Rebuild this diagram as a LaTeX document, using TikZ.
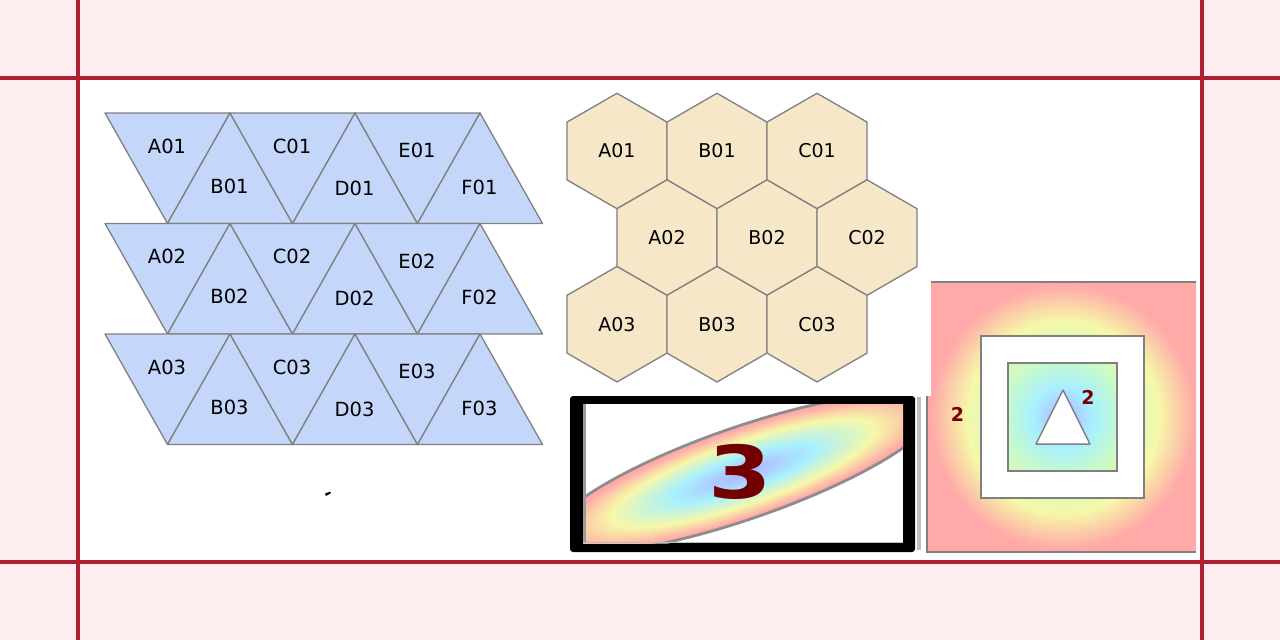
\documentclass[tikz,border=0pt]{standalone}
\usepackage{fontspec}
\setmainfont{DejaVu Sans}
\usepackage{graphicx}
\usetikzlibrary{shapes.geometric}
\definecolor{bgpink}{RGB}{255,238,239}
\definecolor{redline}{RGB}{176,32,48}
\definecolor{trifill}{RGB}{196,214,250}
\definecolor{hexfill}{RGB}{246,231,201}
\definecolor{edgegray}{RGB}{128,128,128}
\definecolor{numred}{RGB}{115,0,0}
\definecolor{lav}{RGB}{176,178,255}
\definecolor{cyanc}{RGB}{168,240,255}
\definecolor{mint}{RGB}{200,250,200}
\definecolor{yel}{RGB}{246,248,168}
\definecolor{pnk}{RGB}{255,170,168}
\pgfdeclareradialshading{ellshade}{\pgfpoint{0bp}{0bp}}{color(0bp)=(lav); color(9bp)=(cyanc); color(17bp)=(yel); color(23.5bp)=(pnk); color(25bp)=(pnk); color(50bp)=(pnk)}
\pgfdeclareradialshading{sqshade}{\pgfpoint{0bp}{0bp}}{color(0bp)=(lav); color(3.8bp)=(cyanc); color(7.5bp)=(mint); color(12bp)=(yel); color(16.5bp)=(pnk); color(25bp)=(pnk); color(50bp)=(pnk)}
\tikzset{
  lbl/.style={font=\fontsize{19.5}{23}\selectfont, inner sep=0pt},
  tri/.style={fill=trifill, draw=edgegray, line width=1.3pt, line join=round},
  hexa/.style={regular polygon, regular polygon sides=6, shape border rotate=30,
    minimum size=115.5pt, inner sep=0pt, outer sep=0pt, fill=hexfill,
    draw=edgegray, line width=1.3pt, font=\fontsize{19}{23}\selectfont},
  edge/.style={draw=edgegray, line width=1.5pt},
  num/.style={text=numred, font=\bfseries\fontsize{19}{23}\selectfont, inner sep=0pt},
  rl/.style={draw=redline, line width=3.5pt}
}
\begin{document}
\begin{tikzpicture}[x=1pt,y=-1pt]
\useasboundingbox (0,0) rectangle (1280,640);
\fill[bgpink] (0,0) rectangle (1280,640);
\fill[white] (78,78) rectangle (1202,562);
\draw[rl] (78,0) -- (78,640);
\draw[rl] (1202,0) -- (1202,640);
\draw[rl] (0,78) -- (1280,78);
\draw[rl] (0,562) -- (1280,562);

% triangles
\foreach \r/\rr in {0/1,1/2,2/3} {
  \pgfmathsetmacro\yt{113+110.5*\r}
  \pgfmathsetmacro\yb{\yt+110.5}
  \foreach \j in {0,1,2} {
    \pgfmathsetmacro\xa{105+125*\j}
    \draw[tri] (\xa,\yt) -- ++(125,0) -- ++(-62.5,110.5) -- cycle;
    \draw[tri] (\xa+62.5,\yb) -- ++(62.5,-110.5) -- ++(62.5,110.5) -- cycle;
  }
  \foreach \L/\dy [count=\k from 0] in {A/33,B/73,C/33,D/75,E/37.5,F/74} {
    \pgfmathsetmacro\lx{167+62.5*\k}
    \pgfmathsetmacro\ly{\yt+\dy}
    \node[lbl] (t\L\rr) at (\lx,\ly) {\L0\rr};
  }
}
\fill[black] (325,493.5) -- (330,491.8) -- (331,493) -- (326,496) -- cycle;

% hexagons
\node[hexa] (hA01) at (617,151) {A01};
\node[hexa] (hB01) at (717,151) {B01};
\node[hexa] (hC01) at (817,151) {C01};
\node[hexa] (hA02) at (667,237.6) {A02};
\node[hexa] (hB02) at (767,237.6) {B02};
\node[hexa] (hC02) at (867,237.6) {C02};
\node[hexa] (hA03) at (617,324.2) {A03};
\node[hexa] (hB03) at (717,324.2) {B03};
\node[hexa] (hC03) at (817,324.2) {C03};

% ellipse picture
\fill[black, rounded corners=3pt] (570,396) rectangle (915,552);
\fill[black!25] (917,397) rectangle (920.5,550);
\begin{scope}
  \clip (583,404) rectangle (903,543);
  \fill[white] (583,404) rectangle (903,543);
  \begin{scope}[transform canvas={cm={193,63,0,48.5,(743pt,-473pt)}}]
    \shade[shading=ellshade] (0pt,0pt) circle (1pt);
  \end{scope}
  \draw[draw=edgegray!90, line width=2.8pt, cm={193,63,0,48.5,(743,473)}] (0,0) circle (1pt);
  \fill[edgegray!80] (583,404) rectangle (585.5,543);
  \draw[black!25, line width=1pt] (583,542.5) -- (903,542.5);
\end{scope}
\node[text=numred, font=\bfseries\fontsize{73}{80}\selectfont, inner sep=0pt] (n3) at (740,471.5) {\scalebox{1.25}[1]{3}};

% square picture
\begin{scope}
  \clip (931,282) -- (1196,282) -- (1196,552) -- (927,552) -- (927,396) -- (931,396) -- cycle;
  \shade[shading=sqshade] (1063,417) circle (200);
\end{scope}
\draw[edge] (931,282) -- (1196,282);
\draw[edge] (927,396) -- (927,552) -- (1196,552);
\draw[edge, fill=white] (981,336) rectangle (1144,498);
\begin{scope}
  \clip (1008,363) rectangle (1117,471);
  \shade[shading=sqshade] (1063,417) circle (200);
\end{scope}
\draw[edge] (1008,363) rectangle (1117,471);
\draw[edge, fill=white, line join=round] (1063,390) -- (1090,444) -- (1036,444) -- cycle;
\node[num] (n2a) at (1088,397) {2};
\node[num] (n2b) at (957.5,414.5) {2};
\end{tikzpicture}
\end{document}
